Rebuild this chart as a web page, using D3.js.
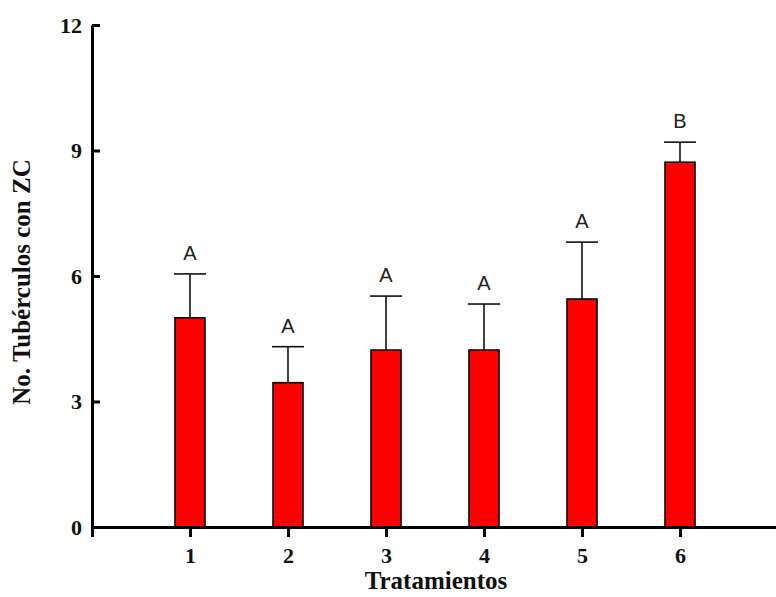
<!DOCTYPE html>
<html>
<head>
<meta charset="utf-8">
<script src="https://cdn.jsdelivr.net/npm/d3@7"></script>
<style>
    body { margin: 0; background: #fff; }
    .tickLabel { font-family: "Liberation Serif", "Times New Roman", serif; font-weight: bold; font-size: 22px; }
    .axisTitle { font-family: "Liberation Serif", "Times New Roman", serif; font-weight: bold; font-size: 25px; }
    .letter { font-family: "Liberation Sans", Arial, sans-serif; font-size: 20px; fill: #222; }
</style>
</head>
<body>
<div id="chart"></div>
<script>
// data
const treatments = [1, 2, 3, 4, 5, 6];
const means = [5.0, 3.45, 4.23, 4.23, 5.45, 8.72];
const errors = [1.05, 0.86, 1.29, 1.10, 1.36, 0.48];
const letters = ["A", "A", "A", "A", "A", "B"];
const yTicks = [0, 3, 6, 9, 12];

const margin = {top: 25, right: 0, bottom: 70, left: 92};
const size = {width: 776, height: 597};
const width = size.width - margin.left - margin.right;
const height = size.height - margin.top - margin.bottom;

const visData = treatments.map((t, i) => ({t: t, mean: means[i], err: errors[i], letter: letters[i]}));

const svg = d3.select("#chart").append("svg")
    .attr("width", size.width)
    .attr("height", size.height);

const g = svg.append("g")
    .attr("transform", "translate(" + margin.left + "," + margin.top + ")");

const xScale = d3.scaleLinear().domain([0, 7]).range([0, 686]);
const yScale = d3.scaleLinear().domain([0, 12]).range([height, 0]);
const barWidth = 30;
const capWidth = 32;

// bars
g.selectAll(".barRect")
    .data(visData)
    .join("rect")
    .attr("class", "barRect")
    .attr("x", d => xScale(d.t) - barWidth / 2)
    .attr("y", d => yScale(d.mean))
    .attr("width", barWidth)
    .attr("height", d => yScale(0) - yScale(d.mean))
    .attr("fill", "#ff0000")
    .attr("stroke", "#000")
    .attr("stroke-width", 1.6);

// error bars (upper only)
const errG = g.selectAll(".errG")
    .data(visData)
    .join("g")
    .attr("class", "errG")
    .attr("stroke", "#111")
    .attr("stroke-width", 1.6);
errG.append("line")
    .attr("x1", d => xScale(d.t)).attr("x2", d => xScale(d.t))
    .attr("y1", d => yScale(d.mean)).attr("y2", d => yScale(d.mean + d.err));
errG.append("line")
    .attr("x1", d => xScale(d.t) - capWidth / 2).attr("x2", d => xScale(d.t) + capWidth / 2)
    .attr("y1", d => yScale(d.mean + d.err)).attr("y2", d => yScale(d.mean + d.err));

// significance letters
g.selectAll(".letter")
    .data(visData)
    .join("text")
    .attr("class", "letter")
    .attr("x", d => xScale(d.t))
    .attr("y", d => yScale(d.mean + d.err) - 14)
    .attr("text-anchor", "middle")
    .text(d => d.letter);

// x axis
const xAxisG = g.append("g")
    .attr("transform", "translate(0," + height + ")")
    .call(d3.axisBottom(xScale)
        .tickValues([0].concat(treatments))
        .tickFormat(d => d === 0 ? "" : d)
        .tickSize(10)
        .tickSizeOuter(0));
xAxisG.select(".domain").attr("stroke-width", 3);
xAxisG.selectAll(".tick line").attr("stroke-width", 3);
xAxisG.selectAll(".tick text").attr("class", "tickLabel").attr("dy", "1.05em").attr("fill", "#111");

// y axis, ticks pointing inward
const yAxisG = g.append("g")
    .call(d3.axisLeft(yScale)
        .tickValues(yTicks)
        .tickSize(-8)
        .tickSizeOuter(0)
        .tickPadding(10));
yAxisG.select(".domain").attr("stroke-width", 3);
yAxisG.selectAll(".tick line").attr("stroke-width", 3);
yAxisG.selectAll(".tick text").attr("class", "tickLabel").attr("fill", "#111");

// axis titles
svg.append("text")
    .attr("class", "axisTitle")
    .attr("x", 436)
    .attr("y", 589)
    .attr("text-anchor", "middle")
    .attr("fill", "#111")
    .text("Tratamientos");

svg.append("text")
    .attr("class", "axisTitle")
    .attr("transform", "translate(30,282) rotate(-90)")
    .attr("text-anchor", "middle")
    .attr("fill", "#111")
    .text("No. Tubérculos con ZC");
</script>
</body>
</html>
